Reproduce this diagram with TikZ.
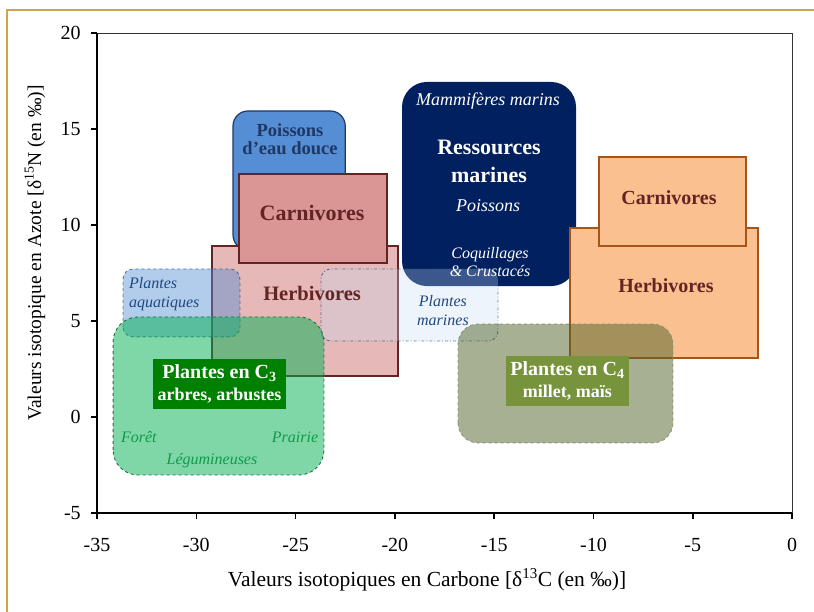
\documentclass[tikz,border=0pt]{standalone}
\usepackage{fontspec}
\setmainfont{Liberation Serif}
\usepackage{tikz}
\usetikzlibrary{
  calc,
  positioning,
}
\newcommand{\fsz}[2]{\fontsize{#1}{#2}\selectfont}

\definecolor{framegold}{RGB}{207, 163, 74}
\definecolor{poisfill}{RGB}{85, 142, 213}
\definecolor{poisline}{RGB}{31, 56, 100}
\definecolor{carnfill}{RGB}{217, 150, 148}
\definecolor{herbfill}{RGB}{230, 185, 184}
\definecolor{redline}{RGB}{99, 37, 35}
\definecolor{marinenavy}{RGB}{0, 32, 96}
\definecolor{orfill}{RGB}{250, 192, 144}
\definecolor{orline}{RGB}{166, 85, 22}
\definecolor{plantblue}{RGB}{31, 73, 125}
\definecolor{marfill}{RGB}{198, 217, 241}
\definecolor{cthreefill}{RGB}{0, 176, 80}
\definecolor{cthreeline}{RGB}{30, 112, 64}
\definecolor{cthreelbl}{RGB}{0, 128, 0}
\definecolor{cthreetext}{RGB}{18, 153, 74}
\definecolor{cfourfill}{RGB}{79, 98, 40}
\definecolor{cfourline}{RGB}{140, 148, 120}
\definecolor{cfourlbl}{RGB}{119, 147, 60}

\tikzstyle{axis} = [line width=1.5pt, black]
\tikzstyle{ticklbl} = [inner sep=0pt, font=\fsz{20}{20}]
\tikzstyle{foodbox} = [line width=2.4pt, draw=redline]
\tikzstyle{orbox} = [line width=2.6pt, draw=orline, fill=orfill]
\tikzstyle{plantbox} = [line width=0.9pt, dashed]
\tikzstyle{boldlbl} = [inner sep=0pt, align=center, text=redline, font=\fsz{21}{24}\bfseries]
\tikzstyle{itlbl} = [inner sep=0pt, align=center, font=\fsz{16}{19}\itshape]
\tikzstyle{c-lbl} = [inner sep=0pt, align=center, text=white, minimum height=50pt, font=\fsz{18}{22}\bfseries]

\begin{document}
\begin{tikzpicture}[x=19.86pt, y=19.2pt]

        \useasboundingbox (-39.884,-10.104) rectangle (1.103,21.719);

        % Frame
        \draw [framegold, line width=2.5pt] (-39.53,-10.5) -- (-39.53,21.2) -- (1.5,21.2);

        % Animals
        \draw [fill=poisfill, draw=poisline, line width=1.2pt, rounded corners=15pt]
              (-28.15,8.7) rectangle (-22.5,15.94);
        \draw [foodbox, fill=herbfill] (-29.2,2.14) rectangle (-19.84,8.9);
        \draw [foodbox, fill=carnfill] (-27.85,8.02) rectangle (-20.4,12.66);

        \fill [marinenavy, rounded corners=25pt] (-19.64,6.82) rectangle (-10.88,17.45);

        \draw [orbox] (-11.18,3.07) rectangle (-1.72,9.84);
        \draw [orbox] (-9.72,8.9) rectangle (-2.32,13.54);

        % Plants
        \draw [plantbox, fill=poisfill, fill opacity=0.45, draw=plantblue, draw opacity=0.7,
               rounded corners=10pt] (-33.69,4.17) rectangle (-27.8,7.71);
        \draw [line width=0.9pt, dash dot, fill=marfill, fill opacity=0.3, draw=plantblue,
               draw opacity=0.7, rounded corners=10pt] (-23.72,3.96) rectangle (-14.81,7.71);
        \draw [plantbox, fill=cthreefill, fill opacity=0.5, draw=cthreeline,
               rounded corners=25pt] (-34.19,-3.02) rectangle (-23.57,5.21);
        \draw [plantbox, fill=cfourfill, fill opacity=0.5, draw=cfourline,
               rounded corners=20pt] (-16.82,-1.35) rectangle (-6.0,4.84);

        % Labels
        \node [boldlbl, text=poisline, font=\fsz{18.5}{18}\bfseries] (poisdouce) at (-25.28,14.48)
              {Poissons\\d’eau douce};
        \node [boldlbl, font=\fsz{22}{24}\bfseries] (carnL) at (-24.17,10.63) {Carnivores};
        \node [boldlbl, font=\fsz{20.5}{24}\bfseries] (herbL) at (-24.17,6.41) {Herbivores};

        \node [itlbl, text=white, font=\fsz{18}{20}\itshape] (mammif) at (-15.31,16.46)
              {Mammifères marins};
        \node [boldlbl, text=white, font=\fsz{22}{28}\bfseries] (ressources) at (-15.26,13.33)
              {Ressources\\marines};
        \node [itlbl, text=white, font=\fsz{18}{20}\itshape] (poismarins) at (-15.31,10.99)
              {Poissons};
        \node [itlbl, text=white, font=\fsz{16}{18}\itshape] (coquillages) at (-15.21,8.07)
              {Coquillages\\\& Crustacés};

        \node [boldlbl, font=\fsz{20}{24}\bfseries] (carnR) at (-6.20,11.41) {Carnivores};
        \node [boldlbl, font=\fsz{20}{24}\bfseries] (herbR) at (-6.35,6.82) {Herbivores};

        \node [itlbl, text=plantblue, align=left, anchor=west] (aquatiques) at (-33.39,6.41)
              {Plantes\\aquatiques};
        \node [itlbl, text=plantblue] (marines) at (-17.58,5.57) {Plantes\\marines};

        \node [c-lbl, fill=cthreelbl, minimum width=133pt] (cthree) at (-28.83,1.72)
              {{\fsz{20}{22}Plantes en C\textsubscript{3}}\\arbres, arbustes};
        \node [c-lbl, fill=cfourlbl, minimum width=123pt] (cfour) at (-11.31,1.875)
              {{\fsz{20}{23}Plantes en C\textsubscript{4}}\\millet, maïs};

        \node [itlbl, text=cthreetext] (foret) at (-32.89,-1.04) {Forêt};
        \node [itlbl, text=cthreetext] (prairie) at (-25.03,-1.04) {Prairie};
        \node [itlbl, text=cthreetext] (legum) at (-29.21,-2.29) {Légumineuses};

        % Axes
        \draw [line width=0.8pt, black!80] (-35,-5) rectangle (0,20);
        \draw [axis] (-35,20) -- (-35,-5) -- (0,-5);

        \foreach \x in {-35,-30,...,0} {
          \draw [axis] (\x,-5) -- (\x,-5.31);
          \node [ticklbl, anchor=north] (xt\x) at (\x,-6.30) {\x};
        }
        \foreach \y in {-5,0,...,20} {
          \draw [axis] (-35,\y) -- (-35.3,\y);
          \node [ticklbl, anchor=east] (yt\y) at (-35.81,\y) {\y};
        }

        \node [inner sep=0pt, font=\fsz{21.5}{22}] (xlabel) at (-18.38,-8.49)
              {Valeurs isotopiques en Carbone [δ\textsuperscript{13}C (en ‰)]};
        \node [inner sep=0pt, rotate=90, font=\fsz{19.5}{20}] (ylabel) at (-38.12,8.54)
              {Valeurs isotopique en Azote [δ\textsuperscript{15}N (en ‰)]};
      \end{tikzpicture}
\end{document}
